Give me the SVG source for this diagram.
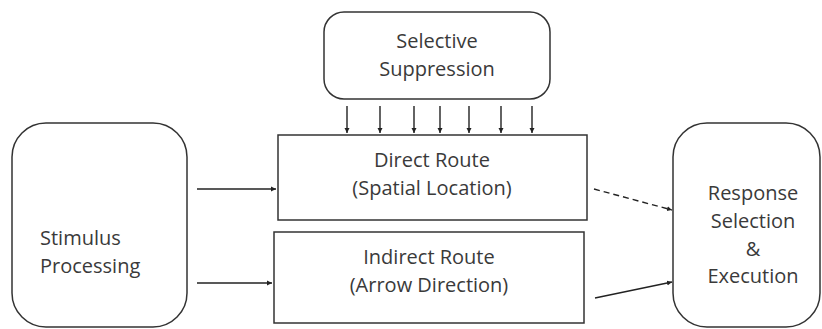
<svg xmlns="http://www.w3.org/2000/svg" width="822" height="329" viewBox="0 0 822 329">
<style>
.box{fill:#fff;stroke:#333;stroke-width:1.5}
.t{font-family:"Open Sans",sans-serif;font-size:20px;fill:#3a3a3a}
.c{text-anchor:middle}
.ln{stroke:#222;stroke-width:1.4;fill:none}
</style>
<defs>
<marker id="ah" markerWidth="6" markerHeight="6" refX="5" refY="3" orient="auto" markerUnits="userSpaceOnUse">
<path d="M0,0.5 L5,3 L0,5.5 z" fill="#222"/>
</marker>
</defs>
<rect width="822" height="329" fill="#fff"/>
<g id="stimulus">
<rect class="box" x="12" y="123" width="175" height="204" rx="34"/>
<text class="t" x="40" y="245">Stimulus</text>
<text class="t" x="40" y="273">Processing</text>
</g>
<g id="suppression">
<rect class="box" x="324" y="12" width="226" height="87" rx="20"/>
<text class="t c" x="437" y="48">Selective</text>
<text class="t c" x="437" y="76">Suppression</text>
</g>
<g id="direct">
<rect class="box" x="278" y="135" width="309" height="85"/>
<text class="t c" x="432" y="167">Direct Route</text>
<text class="t c" x="432" y="195">(Spatial Location)</text>
</g>
<g id="indirect">
<rect class="box" x="274" y="232" width="310" height="91"/>
<text class="t c" x="429" y="264">Indirect Route</text>
<text class="t c" x="429" y="292">(Arrow Direction)</text>
</g>
<g id="response">
<rect class="box" x="673" y="123" width="147" height="204" rx="34"/>
<text class="t c" x="753" y="200">Response</text>
<text class="t c" x="753" y="228">Selection</text>
<text class="t c" x="753" y="256">&amp;</text>
<text class="t c" x="753" y="283">Execution</text>
</g>
<g id="connectors">
<line class="ln" x1="197" y1="189" x2="276" y2="189" marker-end="url(#ah)"/>
<line class="ln" x1="197" y1="283" x2="272" y2="283" marker-end="url(#ah)"/>
<line class="ln" x1="347" y1="106" x2="347" y2="133" marker-end="url(#ah)"/>
<line class="ln" x1="380" y1="106" x2="380" y2="133" marker-end="url(#ah)"/>
<line class="ln" x1="414" y1="106" x2="414" y2="133" marker-end="url(#ah)"/>
<line class="ln" x1="440" y1="106" x2="440" y2="133" marker-end="url(#ah)"/>
<line class="ln" x1="469" y1="106" x2="469" y2="133" marker-end="url(#ah)"/>
<line class="ln" x1="501" y1="106" x2="501" y2="133" marker-end="url(#ah)"/>
<line class="ln" x1="532" y1="106" x2="532" y2="133" marker-end="url(#ah)"/>
<line class="ln" x1="594" y1="189" x2="672" y2="210" stroke-dasharray="6,4" marker-end="url(#ah)"/>
<line class="ln" x1="595" y1="298" x2="672" y2="282" marker-end="url(#ah)"/>
</g>
</svg>
